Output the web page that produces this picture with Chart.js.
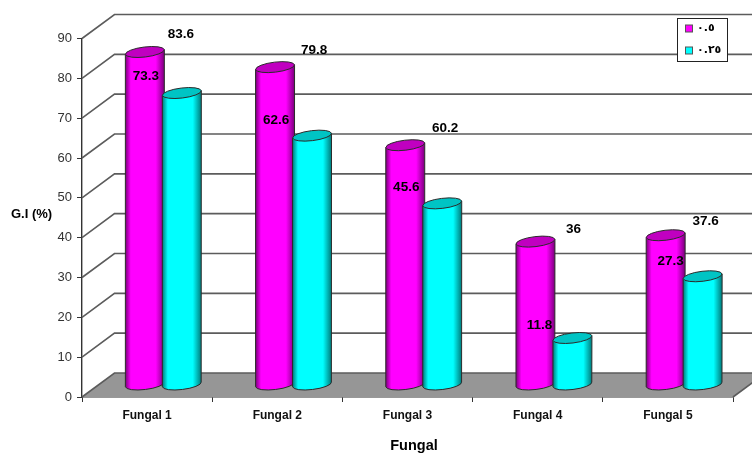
<!DOCTYPE html>
<html>
<head>
<meta charset="utf-8">
<title>G.I (%)</title>
<script src="https://cdn.jsdelivr.net/npm/chart.js@4/dist/chart.umd.js"></script>
<style>
  html, body { margin: 0; padding: 0; background: #ffffff; }
  canvas { display: block; }
</style>
</head>
<body>
<canvas id="chart" width="752" height="453"></canvas>
<script>
const categories = [`Fungal 1`, `Fungal 2`, `Fungal 3`, `Fungal 4`, `Fungal 5`];
const seriesNames = [`٠.٥`, `٠.٢٥`];
const seriesHigh = [83.6, 79.8, 60.2, 36, 37.6];
const seriesLow = [73.3, 62.6, 45.6, 11.8, 27.3];
const seriesColors = [`#ff00ff`, `#00ffff`];
const seriesShades = [`#7a007a`, `#007a7a`];
const seriesCaps = [`#c000c0`, `#00c4c4`];

// Hand placed value labels, [dx, dy] from the default spot
const highLabelNudge = [[0, 0], [3, 1], [4, 1], [2, 6], [4, 4]];
const lowLabelNudge = [[0, 0], [0, 2], [0, 1], [3, 4], [4, 2]];

// Oblique offset of the back wall from the front axis plane
const DEPTH_X = 32.5;
const DEPTH_Y = -24;
const FONT = `"Liberation Sans", Arial, sans-serif`;

/**
 * Cylinder drawn over the rectangle the bar controller computes.
 * The base sits halfway along the depth of the floor.
 */
class CylinderElement extends Chart.BarElement {
  draw(ctx) {
    const {x, y, base, width} = this.getProps([`x`, `y`, `base`, `width`]);
    const index = seriesColors.indexOf(this.options.backgroundColor);
    const cx = x + DEPTH_X / 2;
    const top = y + DEPTH_Y / 2;
    const bottom = base + DEPTH_Y / 2;
    const rx = width / 2 + 1;
    const ry = 5;
    const tilt = -0.12;
    const rise = rx * Math.sin(tilt);

    const body = ctx.createLinearGradient(cx - rx, 0, cx + rx, 0);
    body.addColorStop(0, seriesShades[index]);
    body.addColorStop(0.14, seriesColors[index]);
    body.addColorStop(0.78, seriesColors[index]);
    body.addColorStop(1, seriesShades[index]);

    ctx.save();
    ctx.lineWidth = 1;
    ctx.strokeStyle = `#2b2b2b`;

    ctx.beginPath();
    ctx.moveTo(cx - rx, top - rise);
    ctx.lineTo(cx - rx, bottom - rise);
    ctx.ellipse(cx, bottom, rx, ry, tilt, Math.PI, 0, true);
    ctx.lineTo(cx + rx, top + rise);
    ctx.closePath();
    ctx.fillStyle = body;
    ctx.fill();
    ctx.stroke();

    ctx.beginPath();
    ctx.ellipse(cx, top, rx, ry, tilt, 0, Math.PI * 2);
    ctx.fillStyle = seriesCaps[index];
    ctx.fill();
    ctx.stroke();
    ctx.restore();
  }
}
CylinderElement.id = `cylinder`;

class CylinderController extends Chart.BarController {
  // Right hand cylinder of each pair overlaps the left one, so the second
  // dataset has to be painted after the first
  draw() {
    if (this.index === 0) {
      this.paint();
      this.chart.getDatasetMeta(1).controller.paint();
    }
  }

  paint() {
    super.draw();
  }
}
CylinderController.id = `cylinderBar`;
CylinderController.defaults = {
  ...Chart.BarController.defaults,
  dataElementType: `cylinder`
};

Chart.register(CylinderElement, CylinderController);

// Floor, back wall lines and the slanted side wall lines
const wallsPlugin = {
  id: `walls`,
  beforeDatasetsDraw(chart) {
    const {ctx, chartArea, scales} = chart;
    const floorY = scales.y.getPixelForValue(0);

    ctx.save();
    ctx.beginPath();
    ctx.moveTo(chartArea.left, floorY);
    ctx.lineTo(chartArea.right, floorY);
    ctx.lineTo(chartArea.right + DEPTH_X, floorY + DEPTH_Y);
    ctx.lineTo(chartArea.left + DEPTH_X, floorY + DEPTH_Y);
    ctx.closePath();
    ctx.fillStyle = `#969696`;
    ctx.fill();

    ctx.strokeStyle = `#5c5c5c`;
    ctx.lineWidth = 1.6;
    scales.y.ticks.forEach((tick) => {
      const y = scales.y.getPixelForValue(tick.value);
      ctx.beginPath();
      ctx.moveTo(chartArea.left, y);
      ctx.lineTo(chartArea.left + DEPTH_X, y + DEPTH_Y);
      ctx.lineTo(chart.width, y + DEPTH_Y);
      ctx.stroke();
    });
    ctx.beginPath();
    ctx.moveTo(chartArea.right, floorY);
    ctx.lineTo(chartArea.right + DEPTH_X, floorY + DEPTH_Y);
    ctx.stroke();
    ctx.restore();
  }
};

// Value labels: each one is printed over the neighbouring cylinder of its pair
const valueLabelsPlugin = {
  id: `valueLabels`,
  afterDatasetsDraw(chart) {
    const {ctx} = chart;
    const high = chart.getDatasetMeta(0).data;
    const low = chart.getDatasetMeta(1).data;

    ctx.save();
    ctx.font = `bold 13.5px ${FONT}`;
    ctx.fillStyle = `#000000`;
    ctx.textAlign = `center`;
    ctx.textBaseline = `middle`;
    categories.forEach((name, i) => {
      const [highDx, highDy] = highLabelNudge[i];
      const [lowDx, lowDy] = lowLabelNudge[i];
      ctx.fillText(String(seriesHigh[i]), low[i].x + DEPTH_X / 2 - 1 + highDx, high[i].y + DEPTH_Y / 2 - 18 + highDy);
      ctx.fillText(String(seriesLow[i]), high[i].x + DEPTH_X / 2 + 1 + lowDx, low[i].y + DEPTH_Y / 2 - 17 + lowDy);
    });
    ctx.restore();
  }
};

// Boxed legend in the top right corner and the two axis captions
const legendBoxPlugin = {
  id: `legendBox`,
  afterDraw(chart) {
    const {ctx} = chart;

    ctx.save();
    ctx.fillStyle = `#000000`;
    ctx.textBaseline = `middle`;
    ctx.textAlign = `center`;
    ctx.font = `bold 14.5px ${FONT}`;
    ctx.fillText(`Fungal`, 414, 446);
    ctx.textAlign = `left`;
    ctx.font = `bold 13px ${FONT}`;
    ctx.fillText(`G.I (%)`, 11, 214);

    ctx.fillStyle = `#ffffff`;
    ctx.strokeStyle = `#222222`;
    ctx.lineWidth = 1;
    ctx.fillRect(677.5, 18.5, 50, 43);
    ctx.strokeRect(677.5, 18.5, 50, 43);

    ctx.font = `bold 11px "DejaVu Sans", sans-serif`;
    seriesNames.forEach((name, i) => {
      const y = 28.5 + i * 22;
      ctx.fillStyle = seriesColors[i];
      ctx.strokeStyle = `#555555`;
      ctx.fillRect(685.5, y - 3.5, 7, 7);
      ctx.strokeRect(685.5, y - 3.5, 7, 7);
      ctx.fillStyle = `#000000`;
      ctx.fillText(name, 697, y);
    });
    ctx.restore();
  }
};

new Chart(document.getElementById(`chart`), {
  type: `cylinderBar`,
  data: {
    labels: categories,
    datasets: [
      {label: seriesNames[0], data: seriesHigh, backgroundColor: seriesColors[0]},
      {label: seriesNames[1], data: seriesLow, backgroundColor: seriesColors[1]}
    ]
  },
  options: {
    responsive: false,
    animation: false,
    layout: {padding: {top: 38.5, right: 19, bottom: 0, left: 0}},
    categoryPercentage: 0.568,
    barPercentage: 1,
    plugins: {
      legend: {display: false},
      tooltip: {enabled: false}
    },
    scales: {
      x: {
        afterFit: (scale) => {
          scale.height = 56;
        },
        grid: {drawOnChartArea: false, tickLength: 5, color: `#333333`},
        border: {color: `#333333`, width: 1.4},
        ticks: {
          color: `#111111`,
          font: {family: FONT, size: 12, weight: `bold`},
          padding: 6,
          maxRotation: 0
        }
      },
      y: {
        min: 0,
        max: 90,
        afterFit: (scale) => {
          scale.width = 82;
        },
        grid: {drawOnChartArea: false, tickLength: 5, color: `#333333`},
        border: {color: `#333333`, width: 1.4},
        ticks: {
          stepSize: 10,
          color: `#333333`,
          font: {family: FONT, size: 13},
          padding: 5
        }
      }
    }
  },
  plugins: [wallsPlugin, valueLabelsPlugin, legendBoxPlugin]
});
</script>
</body>
</html>
